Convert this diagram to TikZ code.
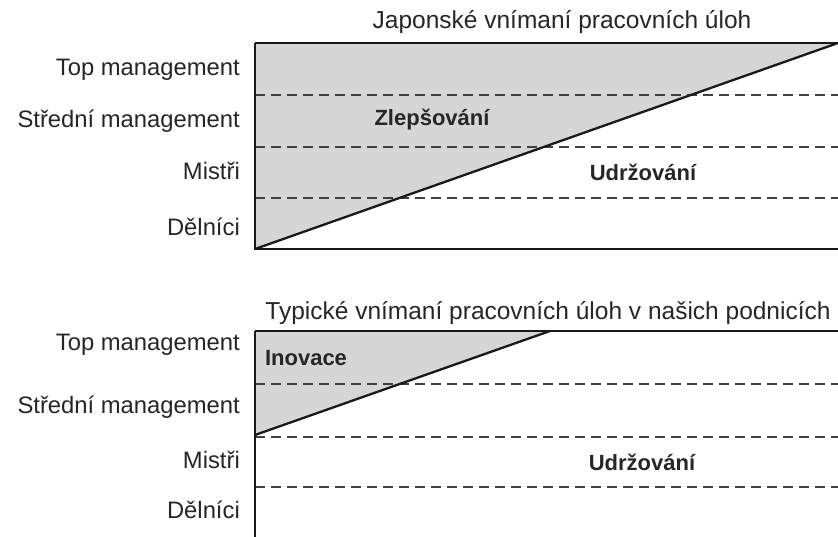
\documentclass[tikz,border=0pt]{standalone}
\usepackage{fontspec}
\setmainfont{Liberation Sans}
\begin{document}
\begin{tikzpicture}[x=1pt,y=-1pt,
  rowlabel/.style={anchor=east,text=black!85,font=\fontsize{23.8}{26}\selectfont,inner sep=0pt},
  title/.style={text=black!85,font=\fontsize{24.5}{27}\selectfont,inner sep=0pt},
  area/.style={text=black!85,font=\bfseries\fontsize{22}{25}\selectfont,inner sep=0pt},
  frame/.style={draw=black!90,line width=2.3pt},
  level/.style={draw=black!75,line width=1.8pt,dash pattern=on 10pt off 6pt},
  shade/.style={fill=black!16}]
\useasboundingbox (0,0) rectangle (838,537);

% --- upper chart: Japanese view ---
\fill[shade] (255,43) -- (838,43) -- (255,249) -- cycle;
\foreach \y in {95,147,198} \draw[level] (255,\y) -- (838,\y);
\draw[frame,line width=2.8pt] (255,43) -- (838,43);
\draw[frame] (255,43) -- (255,249) -- (838,249);
\draw[frame] (255,249) -- (838,43);

\node[title] (t1) at (562,22) {Japonské vnímaní pracovních úloh};
\node[rowlabel] (a1) at (240,70) {Top management};
\node[rowlabel] (a2) at (240,121) {Střední management};
\node[rowlabel] (a3) at (240,171) {Mistři};
\node[rowlabel] (a4) at (240,227) {Dělníci};
\node[area] (z1) at (432,120) {Zlepšování};
\node[area] (u1) at (643,172) {Udržování};

% --- lower chart: typical view in our companies ---
\fill[shade] (255,331) -- (550,331) -- (255,435) -- cycle;
\foreach \y in {384,437,487} \draw[level] (255,\y) -- (838,\y);
\draw[frame] (255,331) -- (838,331);
\draw[frame] (255,331) -- (255,537);
\draw[frame] (255,435) -- (550,331);

\node[title] (t2) at (548,313) {Typické vnímaní pracovních úloh v našich podnicích};
\node[rowlabel] (b1) at (240,345) {Top management};
\node[rowlabel] (b2) at (240,407) {Střední management};
\node[rowlabel] (b3) at (240,460) {Mistři};
\node[rowlabel] (b4) at (240,510) {Dělníci};
\node[area] (i2) at (306,358) {Inovace};
\node[area] (u2) at (642,462) {Udržování};
\end{tikzpicture}
\end{document}
